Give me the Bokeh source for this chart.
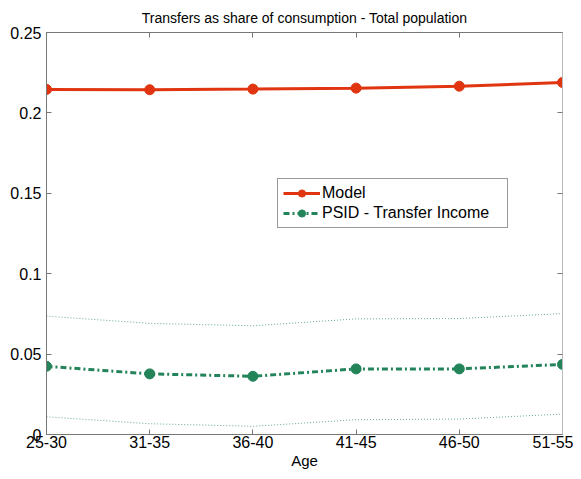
from bokeh.models import ColumnDataSource, FixedTicker, LinearAxis, Range1d, Spacer
from bokeh.layouts import row
from bokeh.plotting import figure
from bokeh.embed import file_html
from bokeh.resources import INLINE

ages = ["25-30", "31-35", "36-40", "41-45", "46-50", "51-55"]
model = [0.2146, 0.2144, 0.2148, 0.2154, 0.2166, 0.2189]
psid = [0.0424, 0.0377, 0.0362, 0.0408, 0.0408, 0.0436]
psid_hi = [0.0736, 0.0691, 0.0676, 0.0719, 0.0721, 0.0752]
psid_lo = [0.0110, 0.0067, 0.0051, 0.0092, 0.0096, 0.0127]

FONT = "Liberation Sans"
RED = "#e03510"
GREEN = "#23845a"

xs = list(range(len(ages)))
src = ColumnDataSource(dict(x=xs, model=model, psid=psid, hi=psid_hi, lo=psid_lo))

p = figure(frame_width=516, frame_height=402, output_backend="svg", toolbar_location=None,
           x_range=Range1d(0, len(ages) - 1), y_range=Range1d(0, 0.25),
           title="Transfers as share of consumption - Total population",
           min_border_left=38, min_border_right=11, min_border_top=25, min_border_bottom=30)

p.title.text_font = FONT
p.title.text_font_size = "14px"
p.title.text_font_style = "normal"
p.title.text_color = "black"
p.title.align = "center"
p.title.offset = 0
p.title.standoff = 14

p.grid.visible = False
p.outline_line_color = None
p.background_fill_color = "white"
p.border_fill_color = "white"

# dotted bands
p.line("x", "hi", source=src, line_color=GREEN, line_width=1, line_dash="1 2", line_alpha=0.7)
p.line("x", "lo", source=src, line_color=GREEN, line_width=1, line_dash="1 2", line_alpha=0.7)

p.line("x", "model", source=src, line_color=RED, line_width=3, legend_label="Model")
p.scatter("x", "model", source=src, size=10, fill_color=RED, line_color=RED, legend_label="Model")

p.line("x", "psid", source=src, line_color=GREEN, line_width=3, line_dash="6 3 2 3",
       legend_label="PSID - Transfer Income")
p.scatter("x", "psid", source=src, size=10, fill_color=GREEN, line_color=GREEN,
          legend_label="PSID - Transfer Income")

yticks = [0, 0.05, 0.1, 0.15, 0.2, 0.25]
ylabels = {0: "0", 0.05: "0.05", 0.1: "0.1", 0.15: "0.15", 0.2: "0.2", 0.25: "0.25"}

def style_axis(ax):
    ax.axis_line_color = "#777777"
    ax.major_tick_line_color = "#777777"
    ax.major_tick_in = 5
    ax.major_tick_out = 0
    ax.minor_tick_line_color = None
    ax.major_label_text_font = FONT
    ax.major_label_text_font_size = "16px"
    ax.major_label_text_color = "black"
    ax.major_label_standoff = 3

p.xaxis.ticker = FixedTicker(ticks=xs)
p.xaxis.major_label_overrides = {i: a for i, a in enumerate(ages)}
p.yaxis.ticker = FixedTicker(ticks=yticks)
p.yaxis.major_label_overrides = ylabels
style_axis(p.xaxis[0])
style_axis(p.yaxis[0])
p.yaxis.major_label_standoff = 5
p.xaxis.major_label_standoff = 1
p.xaxis.axis_label = "Age"
p.xaxis.axis_label_text_font = FONT
p.xaxis.axis_label_text_font_size = "15px"
p.xaxis.axis_label_text_font_style = "normal"
p.xaxis.axis_label_text_color = "black"
p.xaxis.axis_label_standoff = 1

# box ticks on top and right, no labels
top = LinearAxis(ticker=FixedTicker(ticks=xs), major_label_overrides={i: "" for i in xs})
style_axis(top)
top.major_label_standoff = 0
right = LinearAxis(ticker=FixedTicker(ticks=yticks), major_label_overrides={t: "" for t in yticks})
style_axis(right)
right.major_label_standoff = 0
right.axis_line_color = "#bbbbbb"
p.add_layout(top, "above")
p.add_layout(right, "right")

leg = p.legend[0]
leg.location = (231, 206)
leg.label_text_font = FONT
leg.label_text_font_size = "16px"
leg.label_text_color = "black"
leg.border_line_color = "#333333"
leg.border_line_width = 1
leg.glyph_width = 37
leg.glyph_height = 18
leg.label_height = 18
leg.label_width = 180
leg.spacing = 2
leg.padding = 5
leg.margin = 0
leg.label_standoff = 2
leg.background_fill_alpha = 1

layout = row(Spacer(width=7), p)

open("out.html", "w").write(file_html(layout, INLINE))
